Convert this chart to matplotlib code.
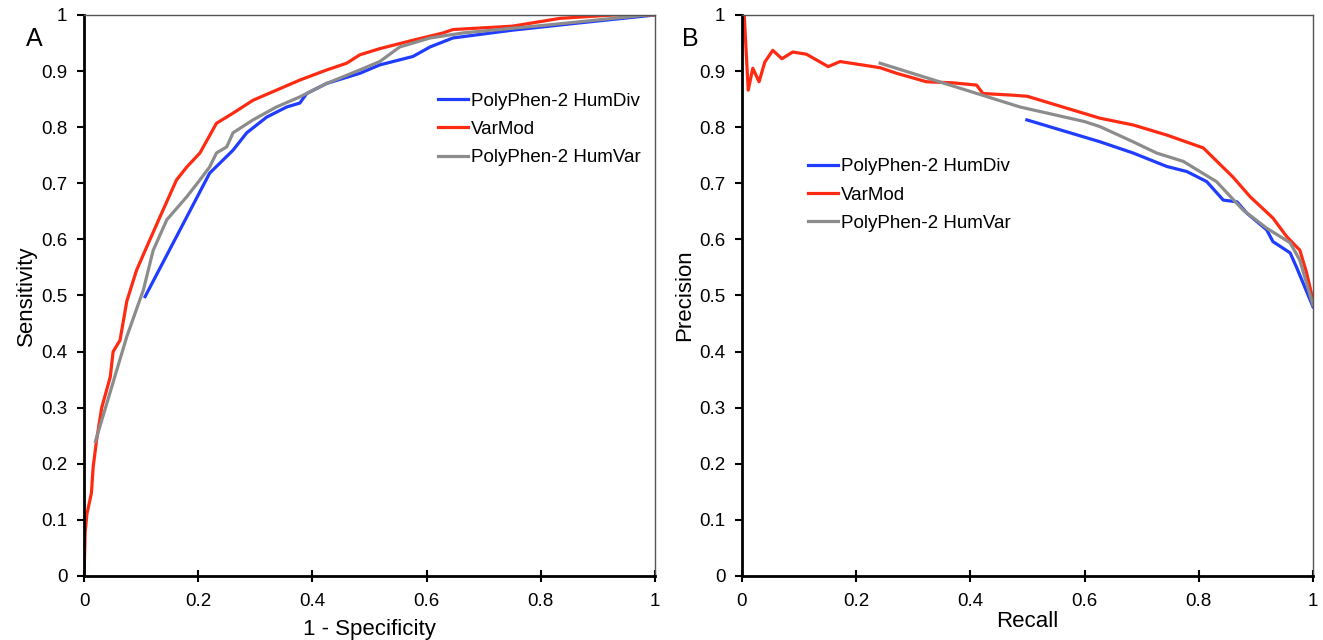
import matplotlib.pyplot as plt

plt.rcParams['font.family'] = ['Liberation Sans', 'DejaVu Sans']

# ROC curves (panel A): 1 - specificity vs sensitivity
roc_div_x = [0.107, 0.22, 0.261, 0.285, 0.32, 0.355, 0.378, 0.39, 0.425, 0.483,
             0.518, 0.576, 0.606, 0.646, 0.751, 0.869, 1.0]
roc_div_y = [0.498, 0.718, 0.759, 0.79, 0.818, 0.836, 0.843, 0.86, 0.878, 0.896,
             0.911, 0.926, 0.943, 0.959, 0.973, 0.986, 1.0]

roc_var_x = [0.0, 0.002, 0.005, 0.013, 0.016, 0.022, 0.031, 0.046, 0.051, 0.063,
             0.075, 0.092, 0.11, 0.133, 0.162, 0.18, 0.203, 0.232, 0.261, 0.296,
             0.337, 0.378, 0.425, 0.46, 0.483, 0.518, 0.576, 0.629, 0.646, 0.75,
             0.834, 0.927, 1.0]
roc_var_y = [0.0, 0.077, 0.11, 0.148, 0.194, 0.242, 0.30, 0.355, 0.40, 0.42,
             0.49, 0.545, 0.587, 0.64, 0.706, 0.729, 0.754, 0.807, 0.825, 0.848,
             0.866, 0.884, 0.902, 0.914, 0.929, 0.94, 0.955, 0.968, 0.974, 0.98,
             0.994, 1.0, 1.0]

roc_hv_x = [0.02, 0.075, 0.104, 0.121, 0.145, 0.18, 0.203, 0.22, 0.232, 0.25,
            0.261, 0.296, 0.337, 0.378, 0.425, 0.483, 0.518, 0.553, 0.606, 0.664,
            0.81, 0.986, 1.0]
roc_hv_y = [0.24, 0.427, 0.51, 0.58, 0.635, 0.676, 0.706, 0.729, 0.754, 0.765,
            0.79, 0.813, 0.836, 0.854, 0.878, 0.902, 0.917, 0.943, 0.959, 0.968,
            0.982, 1.0, 1.0]

# Precision-recall curves (panel B)
pr_div_x = [0.499, 0.627, 0.685, 0.744, 0.779, 0.814, 0.843, 0.867, 0.884, 0.919,
            0.93, 0.96, 0.971, 1.0]
pr_div_y = [0.813, 0.774, 0.754, 0.73, 0.721, 0.703, 0.67, 0.667, 0.647, 0.617,
            0.596, 0.576, 0.551, 0.48]

pr_var_x = [0.0, 0.004, 0.011, 0.019, 0.03, 0.04, 0.054, 0.07, 0.089, 0.113,
            0.151, 0.172, 0.242, 0.271, 0.323, 0.37, 0.411, 0.422, 0.475, 0.5,
            0.627, 0.685, 0.744, 0.808, 0.86, 0.89, 0.93, 0.954, 0.971, 0.977,
            0.989, 1.0]
pr_var_y = [1.0, 1.0, 0.866, 0.905, 0.881, 0.916, 0.937, 0.922, 0.934, 0.930,
            0.908, 0.917, 0.906, 0.896, 0.881, 0.879, 0.875, 0.86, 0.857, 0.855,
            0.816, 0.804, 0.786, 0.763, 0.711, 0.676, 0.638, 0.605, 0.587, 0.581,
            0.54, 0.492]

pr_hv_x = [0.242, 0.487, 0.6, 0.627, 0.685, 0.726, 0.773, 0.831, 0.878, 0.919,
           0.96, 0.977, 1.0]
pr_hv_y = [0.914, 0.836, 0.81, 0.801, 0.774, 0.754, 0.739, 0.703, 0.652, 0.62,
           0.594, 0.563, 0.483]

labels = ['PolyPhen-2 HumDiv', 'VarMod', 'PolyPhen-2 HumVar']
colors = ['#1f3cff', '#ff2a12', '#8c8c8c']
ticks = [0, 0.1, 0.2, 0.3, 0.4, 0.5, 0.6, 0.7, 0.8, 0.9, 1]
tick_labels = ['0', '0.1', '0.2', '0.3', '0.4', '0.5', '0.6', '0.7', '0.8', '0.9', '1']

fig = plt.figure(figsize=(13.23, 6.4), dpi=100)
axA = fig.add_axes([0.0635, 0.1, 0.4316, 0.8766])
axB = fig.add_axes([0.5608, 0.1, 0.4316, 0.8766])


def style(ax):
    ax.set_xlim(0, 1)
    ax.set_ylim(0, 1)
    ax.set_xticks([0, 0.2, 0.4, 0.6, 0.8, 1])
    ax.set_xticklabels(['0', '0.2', '0.4', '0.6', '0.8', '1'])
    ax.set_yticks(ticks)
    ax.set_yticklabels(tick_labels)
    ax.tick_params(axis='x', direction='inout', length=8, width=1.5, labelsize=13.5, pad=8)
    ax.tick_params(axis='y', direction='out', length=5, width=1.5, labelsize=13.5, pad=7)
    for side in ['left', 'bottom']:
        ax.spines[side].set_linewidth(2)
        ax.spines[side].set_color('black')
    for side in ['top', 'right']:
        ax.spines[side].set_linewidth(1)
        ax.spines[side].set_color('#555555')


series_a = [(roc_div_x, roc_div_y), (roc_var_x, roc_var_y), (roc_hv_x, roc_hv_y)]
series_b = [(pr_div_x, pr_div_y), (pr_var_x, pr_var_y), (pr_hv_x, pr_hv_y)]

for (x, y), lab, c in zip(series_a, labels, colors):
    axA.plot(x, y, color=c, lw=2.3, label=lab)
for (x, y), lab, c in zip(series_b, labels, colors):
    axB.plot(x, y, color=c, lw=2.3, label=lab)

style(axA)
style(axB)

axA.set_xlabel('1 - Specificity', fontsize=16, labelpad=7)
axA.set_ylabel('Sensitivity', fontsize=16, labelpad=3)
axB.set_xlabel('Recall', fontsize=16, labelpad=1)
axB.set_ylabel('Precision', fontsize=16, labelpad=3)

fig.text(34 / 1323, 1 - 38.5 / 640, 'A', fontsize=18, ha='center', va='center')
fig.text(690 / 1323, 1 - 38.5 / 640, 'B', fontsize=18, ha='center', va='center')

leg_kw = dict(frameon=False, fontsize=13.5, handlelength=1.6, handletextpad=0.15,
              labelspacing=0.6, borderaxespad=0, borderpad=0)
axA.legend(loc='upper left', bbox_to_anchor=(0.62, 0.862), **leg_kw)
axB.legend(loc='upper left', bbox_to_anchor=(0.1156, 0.745), **leg_kw)

fig.savefig('out.png', dpi=100)
